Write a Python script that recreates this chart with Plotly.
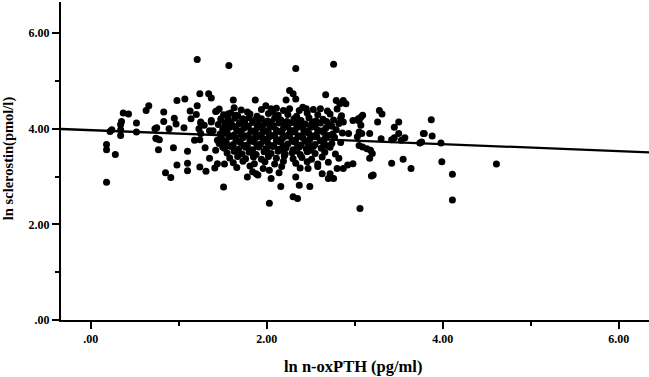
import plotly.graph_objects as go

# ---- data ----
outer_x = [0.18,0.18,0.18,0.28,0.22,0.24,0.34,0.34,0.34,0.35,0.37,0.43,0.52,0.52,0.63,0.66,0.73,0.74,
           1.21,1.57,1.51,1.87,1.62,1.24,1.34,1.37,0.98,1.07,1.21,1.13,1.43,0.83,1.20,1.14,0.95,0.83,0.75,0.75,
           0.77,0.94,0.98,0.85,0.91,1.10,1.10,1.10,1.24,1.31,1.30,1.18,1.24,1.06,0.89,0.97,1.25,1.37,1.39,1.44,
           1.42,1.35,1.44,1.52,1.41,1.50,1.56,1.52,1.78,1.78,1.88,
           1.25,1.23,1.25,1.29,1.35,0.78,
           1.42,1.56,1.37,1.48,1.65,1.73,1.84,
           2.33,2.26,2.30,2.22,2.33,1.99,2.05,2.07,2.45,2.26,2.37,1.90,2.03,2.05,2.14,2.16,2.33,2.37,2.49,2.03,
           2.30,2.35,2.47,
           2.76,2.67,2.79,2.83,2.87,2.90,2.61,2.98,3.04,2.87,2.93,3.05,3.03,2.92,2.87,2.98,2.63,2.70,2.76,2.72,3.06,
           3.28,3.31,3.26,3.07,3.09,3.05,3.07,3.50,3.45,3.50,3.08,3.17,3.30,3.05,3.09,3.14,3.18,3.20,3.17,3.42,
           3.45,3.53,3.57,3.74,3.78,3.42,3.55,3.64,3.19,3.21,
           3.87,3.79,3.88,3.98,3.76,3.99,4.11,4.11,4.61]
outer_y = [2.88,3.67,3.56,3.46,3.94,3.98,3.86,3.98,4.09,4.15,4.33,4.31,4.12,3.93,4.38,4.48,4.00,3.80,
           5.45,5.32,2.78,4.60,4.60,4.73,4.73,4.64,4.59,4.62,4.48,4.37,4.37,4.35,4.30,4.21,4.22,4.15,4.02,3.79,
           3.56,3.60,3.24,3.08,2.98,3.53,3.28,3.12,3.20,3.11,3.60,3.76,3.77,4.02,4.00,4.10,4.14,4.14,3.96,3.76,
           3.55,3.38,3.27,3.26,3.18,3.62,4.24,4.03,4.35,2.99,3.06,
           4.12,4.00,3.90,4.07,3.96,3.77,
           4.36,4.31,4.17,4.21,4.28,4.21,3.10,
           5.26,4.80,4.73,4.60,4.62,4.48,4.42,4.35,4.42,4.42,4.38,3.03,3.13,2.96,3.08,2.79,2.99,2.82,2.79,2.44,
           2.58,2.54,3.17,
           5.35,4.71,4.59,4.52,4.59,4.52,4.42,4.17,4.21,4.14,3.90,3.93,3.83,3.24,3.17,3.27,3.06,2.96,2.96,3.06,2.33,
           4.38,4.31,4.14,4.24,4.28,4.16,4.07,4.14,4.03,3.90,3.90,3.90,3.79,3.65,3.62,3.58,3.55,3.48,3.38,3.77,
           3.81,3.76,3.81,3.70,3.90,3.28,3.36,3.17,3.01,3.03,
           4.19,3.90,3.85,3.70,3.72,3.31,3.05,2.51,3.26]

core_x = [1.46,1.63,1.71,1.94,2.11,2.19,2.41,2.53,2.69,2.80,
          1.51,1.59,1.67,1.81,1.89,2.02,2.13,2.24,2.34,2.46,2.58,2.72,2.85,
          1.48,1.56,1.64,1.72,1.80,1.87,1.94,2.01,2.09,2.16,2.23,2.31,2.39,2.48,2.56,2.64,2.76,2.84,
          1.45,1.53,1.61,1.69,1.76,1.84,1.91,1.98,2.06,2.14,2.21,2.29,2.36,2.44,2.51,2.61,2.71,2.82,
          1.50,1.58,1.66,1.74,1.82,1.89,1.96,2.04,2.11,2.19,2.27,2.34,2.42,2.50,2.58,2.67,2.79,
          1.47,1.55,1.63,1.71,1.79,1.87,1.94,2.02,2.09,2.17,2.25,2.32,2.40,2.48,2.56,2.65,2.75,2.86,
          1.49,1.57,1.65,1.73,1.81,1.88,1.96,2.03,2.11,2.18,2.26,2.33,2.41,2.49,2.57,2.66,2.77,
          1.46,1.54,1.62,1.70,1.78,1.86,1.93,2.01,2.08,2.16,2.24,2.31,2.39,2.47,2.55,2.64,2.74,2.84,
          1.52,1.60,1.68,1.76,1.84,1.91,1.99,2.07,2.14,2.22,2.30,2.37,2.45,2.53,2.62,2.72,
          1.55,1.63,1.72,1.80,1.88,1.97,2.05,2.13,2.21,2.29,2.38,2.46,2.55,2.66,2.78,
          1.58,1.67,1.76,1.85,1.94,2.02,2.11,2.20,2.30,2.40,2.51,2.63,2.82,
          1.62,1.73,1.86,1.98,2.09,2.19,2.33,2.46,2.58,2.70,
          1.66,1.81,1.96,2.17,2.38,2.58,2.80]
core_y = [4.41,4.44,4.39,4.40,4.43,4.38,4.45,4.40,4.37,4.41,
          4.29,4.33,4.27,4.31,4.26,4.32,4.28,4.30,4.26,4.33,4.29,4.31,4.27,
          4.19,4.16,4.22,4.17,4.23,4.18,4.21,4.16,4.22,4.18,4.15,4.21,4.17,4.23,4.16,4.20,4.18,4.22,
          4.09,4.12,4.07,4.11,4.06,4.13,4.08,4.11,4.05,4.12,4.08,4.13,4.06,4.10,4.07,4.12,4.08,4.11,
          3.99,4.03,3.97,4.01,3.96,4.02,3.98,4.03,3.97,4.01,3.96,4.02,3.98,4.03,3.97,4.01,3.98,
          3.89,3.92,3.87,3.91,3.86,3.93,3.88,3.91,3.85,3.92,3.88,3.93,3.86,3.90,3.87,3.92,3.89,3.91,
          3.79,3.83,3.77,3.81,3.76,3.82,3.78,3.83,3.76,3.80,3.84,3.77,3.81,3.78,3.83,3.79,3.82,
          3.69,3.72,3.67,3.71,3.66,3.73,3.68,3.71,3.65,3.72,3.68,3.73,3.66,3.70,3.67,3.72,3.69,3.71,
          3.59,3.63,3.57,3.61,3.56,3.62,3.58,3.63,3.57,3.60,3.56,3.62,3.58,3.63,3.59,3.61,
          3.49,3.53,3.47,3.51,3.46,3.52,3.48,3.53,3.47,3.50,3.46,3.52,3.48,3.51,3.47,
          3.39,3.42,3.37,3.41,3.36,3.42,3.38,3.43,3.37,3.40,3.36,3.41,3.38,
          3.29,3.32,3.27,3.31,3.26,3.32,3.28,3.31,3.26,3.30,
          3.19,3.22,3.17,3.21,3.18,3.21,3.17]

extra_x = [1.59,1.75,1.90,2.05,2.20,2.35,2.52,2.68,
           1.64,1.79,1.93,2.08,2.24,2.38,2.55,2.74,
           1.53,1.69,1.85,2.00,2.15,2.30,2.45,2.62,
           1.60,1.75,1.91,2.06,2.21,2.36,2.52,2.70,
           1.52,1.68,1.84,1.99,2.13,2.29,2.44,2.61,
           1.58,1.74,1.89,2.04,2.19,2.35,2.51,2.68,
           1.65,1.83,2.00,2.17,2.34,2.50]
extra_y = [4.14,4.13,4.15,4.14,4.13,4.15,4.14,4.15,
           4.04,4.05,4.04,4.06,4.04,4.05,4.04,4.05,
           3.94,3.95,3.94,3.95,3.94,3.96,3.94,3.95,
           3.84,3.85,3.84,3.86,3.84,3.85,3.84,3.86,
           3.74,3.75,3.74,3.75,3.74,3.75,3.74,3.75,
           3.64,3.65,3.64,3.65,3.64,3.65,3.64,3.65,
           3.54,3.55,3.54,3.55,3.54,3.55]

fit_intercept = 3.97
fit_slope = -0.073

x_tickvals = [0, 2, 4, 6]
x_ticktext = [".00", "2.00", "4.00", "6.00"]
y_tickvals = [0, 2, 4, 6]
y_ticktext = [".00", "2.00", "4.00", "6.00"]

x_title = "ln n-oxPTH (pg/ml)"
y_title = "ln sclerostin(pmol/l)"

# ---- figure ----
X_RANGE = [-0.3375, 6.344]
Y_RANGE = [0, 6.65]

xs = outer_x + core_x + extra_x
ys = outer_y + core_y + extra_y

fig = go.Figure()
fig.add_trace(go.Scatter(
    x=xs, y=ys, mode="markers",
    marker=dict(color="black", size=7, line=dict(width=0)),
    showlegend=False, hoverinfo="skip"))

fit_x = X_RANGE
fit_y = [fit_intercept + fit_slope * v for v in fit_x]
fig.add_trace(go.Scatter(
    x=fit_x, y=fit_y, mode="lines",
    line=dict(color="black", width=2.3), showlegend=False, hoverinfo="skip"))

tick_font = dict(family="Liberation Serif", size=12, color="black")

fig.update_layout(
    width=649, height=377,
    margin=dict(l=61, r=0, t=2, b=57),
    paper_bgcolor="white", plot_bgcolor="white",
    font=dict(family="Liberation Serif", color="black"),
    hovermode=False,
    xaxis=dict(range=X_RANGE, showgrid=False, zeroline=False,
               showline=True, linecolor="black", linewidth=2,
               tickvals=x_tickvals, ticktext=["<b>" + t + "</b>" for t in x_ticktext],
               ticks="outside", ticklen=7, tickwidth=2, tickcolor="black",
               tickfont=tick_font,
               minor=dict(dtick=1, tick0=0, ticks="outside", ticklen=4, tickwidth=1.5, tickcolor="black", showgrid=False)),
    yaxis=dict(range=Y_RANGE, showgrid=False, zeroline=False,
               showline=True, linecolor="black", linewidth=2,
               tickvals=y_tickvals, ticktext=["<b>" + t + "</b>" for t in y_ticktext],
               ticks="outside", ticklen=7, tickwidth=2, tickcolor="black",
               tickfont=tick_font,
               minor=dict(dtick=1, tick0=0, ticks="outside", ticklen=4, tickwidth=1.5, tickcolor="black", showgrid=False)),
    annotations=[
        dict(text="<b>" + x_title + "</b>", xref="paper", yref="paper",
             x=0.4966, y=-0.147, xanchor="center", yanchor="middle",
             showarrow=False, font=dict(family="Liberation Serif", size=16.5, color="black")),
        dict(text="<b>" + y_title + "</b>", xref="paper", yref="paper",
             x=-0.0901, y=0.509, xanchor="center", yanchor="middle", textangle=-90,
             showarrow=False, font=dict(family="Liberation Serif", size=14.5, color="black")),
    ],
)

fig.write_html("out.html", config={"displayModeBar": False},
               post_script="document.body.style.margin='0';")
